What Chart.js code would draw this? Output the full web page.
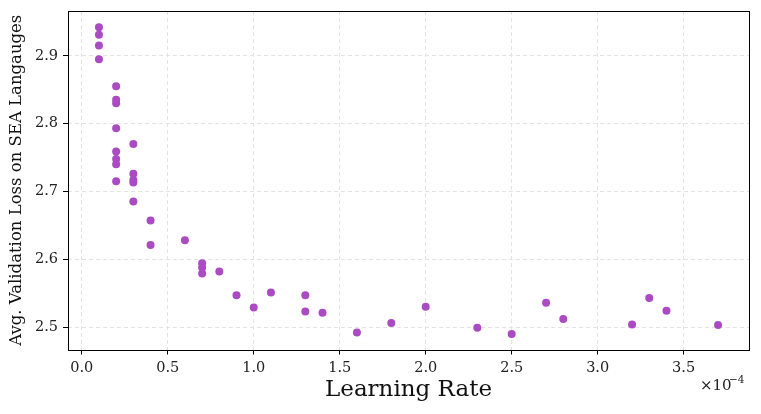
<!DOCTYPE html>
<html>
<head>
<meta charset="utf-8">
<script src="https://cdn.jsdelivr.net/npm/chart.js@4/dist/chart.umd.min.js"></script>
<style>
  html, body { margin: 0; padding: 0; background: #fff; }
  #wrap { width: 761px; height: 414px; position: relative; }
</style>
</head>
<body>
<div id="wrap"><canvas id="c"></canvas></div>
<script>
/* learning rate (x 1e-4) and avg validation loss */
const learningRates = [
  0.1, 0.1, 0.1, 0.1,
  0.2, 0.2, 0.2, 0.2, 0.2, 0.2, 0.2, 0.2,
  0.3, 0.3, 0.3, 0.3, 0.3,
  0.4, 0.4, 0.6, 0.7, 0.7, 0.7, 0.8, 0.9, 1.0, 1.1, 1.3, 1.3, 1.4,
  1.6, 1.8, 2.0, 2.3, 2.5, 2.7, 2.8, 3.2, 3.3, 3.4, 3.7
];
const valLoss = [
  2.942, 2.931, 2.915, 2.895,
  2.855, 2.835, 2.830, 2.793, 2.759, 2.748, 2.740, 2.715,
  2.770, 2.726, 2.717, 2.713, 2.685,
  2.657, 2.621, 2.628, 2.594, 2.588, 2.579, 2.582, 2.547, 2.529, 2.551, 2.547, 2.523, 2.521,
  2.492, 2.506, 2.530, 2.499, 2.490, 2.536, 2.512, 2.504, 2.543, 2.524, 2.503
];
const xTicks = [0, 0.5, 1.0, 1.5, 2.0, 2.5, 3.0, 3.5];
const yTicks = [2.5, 2.6, 2.7, 2.8, 2.9];

const SERIF = "'DejaVu Serif', serif";
const DOT = '#ab4bc4';

const points = learningRates.map((x, i) => ({ x, y: valLoss[i] }));

/* frame around the plot + the x10^-4 offset label */
const framePlugin = {
  id: 'frame',
  afterDraw(chart) {
    const { ctx, chartArea: a } = chart;
    ctx.save();
    ctx.strokeStyle = '#000';
    ctx.lineWidth = 1;
    ctx.strokeRect(Math.round(a.left) + 0.5, Math.round(a.top) + 0.5,
      Math.round(a.right - a.left), Math.round(a.bottom - a.top));
    ctx.fillStyle = '#222';
    ctx.textBaseline = 'middle';
    ctx.textAlign = 'left';
    ctx.font = '15px ' + SERIF;
    ctx.fillText('\u00d710', 700, 386);
    ctx.font = '10.5px ' + SERIF;
    ctx.fillText('\u22124', 729, 380);
    ctx.restore();
  }
};

new Chart(document.getElementById('c'), {
  type: 'scatter',
  data: {
    datasets: [{
      data: points,
      backgroundColor: DOT,
      borderColor: DOT,
      borderWidth: 0,
      pointRadius: 4,
      pointHoverRadius: 4
    }]
  },
  options: {
    responsive: true,
    maintainAspectRatio: false,
    animation: false,
    layout: { padding: { left: 0, top: 11, right: 12, bottom: 0 } },
    plugins: { legend: { display: false }, tooltip: { enabled: false } },
    scales: {
      x: {
        type: 'linear',
        min: -0.08, max: 3.88,
        afterBuildTicks: s => { s.ticks = xTicks.map(v => ({ value: v })); },
        afterFit: s => { s.height = 64.5; s.paddingLeft = 0; s.paddingRight = 0; },
        grid: { color: '#e3e3e3', tickColor: '#000', tickLength: 5, tickWidth: 1 },
        border: { display: false, dash: [4, 3] },
        ticks: {
          color: '#222', padding: 5, maxRotation: 0,
          font: { family: SERIF, size: 14.5 },
          callback: v => v.toFixed(1)
        },
        title: {
          display: true, text: 'Learning Rate', color: '#111',
          font: { family: SERIF, size: 23, lineHeight: 1.2 },
          padding: { top: 0, bottom: 10 }
        }
      },
      y: {
        type: 'linear',
        min: 2.467, max: 2.966,
        afterBuildTicks: s => { s.ticks = yTicks.map(v => ({ value: v })); },
        afterFit: s => { s.width = 68; s.paddingTop = 0; s.paddingBottom = 0; },
        grid: { color: '#e3e3e3', tickColor: '#000', tickLength: 5, tickWidth: 1 },
        border: { display: false, dash: [4, 3] },
        ticks: {
          color: '#222', padding: 5,
          font: { family: SERIF, size: 14.5 },
          callback: v => v.toFixed(1)
        },
        title: {
          display: true, text: 'Avg. Validation Loss on SEA Langauges', color: '#111',
          font: { family: SERIF, size: 16.5, lineHeight: 1.2 },
          padding: { top: 7, bottom: 0 }
        }
      }
    }
  },
  plugins: [framePlugin]
});
</script>
</body>
</html>
